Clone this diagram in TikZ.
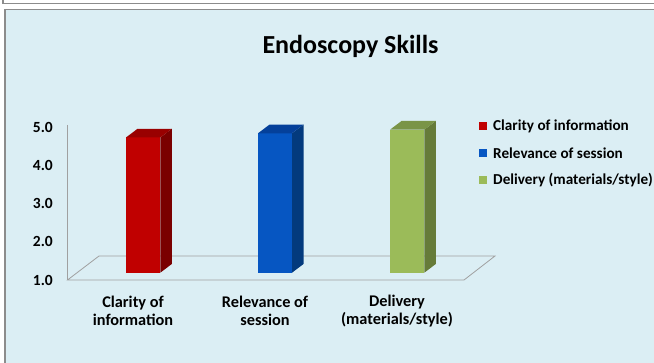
\documentclass[tikz,border=0pt]{standalone}
\usepackage{fontspec}
\setmainfont{Carlito}
\definecolor{bg}{HTML}{DBEEF4}
\definecolor{frame}{HTML}{8C8C8C}
\definecolor{axisgray}{HTML}{A0A0A0}
\definecolor{redF}{HTML}{C00000}
\definecolor{redT}{HTML}{990000}
\definecolor{redS}{HTML}{7A0000}
\definecolor{bluF}{HTML}{0656C2}
\definecolor{bluT}{HTML}{04409A}
\definecolor{bluS}{HTML}{033A7D}
\definecolor{grnF}{HTML}{9BBB59}
\definecolor{grnT}{HTML}{7A9447}
\definecolor{grnS}{HTML}{667B39}
\tikzset{
  axisline/.style={draw=axisgray,line width=0.8pt},
  ticklabel/.style={font=\fontsize{15.5}{18}\selectfont\bfseries,anchor=east,inner sep=0pt},
  catlabel/.style={font=\fontsize{16.3}{18.5}\selectfont\bfseries,align=center,inner sep=0pt},
  legtext/.style={font=\fontsize{15.2}{18}\selectfont\bfseries,anchor=west,inner sep=0pt},
  legbox/.style={minimum size=8pt,inner sep=0pt},
}
\usetikzlibrary{calc}
% bar: x1, x2, ytop, ybot, front, top, side
\newcommand{\mybar}[7]{%
  \fill[#5] (#1,#3) rectangle (#2,#4);
  \fill[#7] (#2,#4) -- ++(11.5,-8.7) -- ($(#2,#3)+(11.5,-8.7)$) -- (#2,#3) -- cycle;
  \fill[#6] (#1,#3) -- ++(11.5,-8.7) -- ($(#2,#3)+(11.5,-8.7)$) -- (#2,#3) -- cycle;
}
\begin{document}
\begin{tikzpicture}[x=1pt,y=-1pt]
\useasboundingbox (0,0) rectangle (654,363);
% frames
\fill[white] (0,0) rectangle (654,363);
\draw[frame,line width=1.2pt] (3,-2) -- (3,3.6) -- (660,3.6);
\fill[bg] (5,9.5) rectangle (660,370);
\draw[frame,line width=1.8pt] (5,370) -- (5,9.5) -- (660,9.5);
% title
\node[font=\fontsize{26}{30}\selectfont\bfseries,inner sep=0pt] (title) at (350.5,46.5) {Endoscopy Skills};
% floor and axis
\coordinate (fl) at (67.5,280);
\coordinate (fr) at (464,280);
\coordinate (bl) at (99,256);
\coordinate (br) at (495,256);
\coordinate (at) at (67.5,125);
\draw[axisline] (fl) -- (fr) -- (br) -- (bl) -- cycle;
\draw[axisline] (at) -- (fl);
% tick labels
\node[ticklabel] (t5) at (53,127.5) {5.0};
\node[ticklabel] (t4) at (53,165) {4.0};
\node[ticklabel] (t3) at (53,203.5) {3.0};
\node[ticklabel] (t2) at (53,241.5) {2.0};
\node[ticklabel] (t1) at (53,280) {1.0};
% bars
\mybar{126}{160.3}{137.5}{272.7}{redF}{redT}{redS}
\mybar{258}{292}{133.3}{272.7}{bluF}{bluT}{bluS}
\mybar{390}{424.3}{129.7}{272.7}{grnF}{grnT}{grnS}
% category labels
\node[catlabel] (c1) at (133,311) {Clarity of\\information};
\node[catlabel] (c2) at (265,311) {Relevance of\\session};
\node[catlabel] (c3) at (397,311) {Delivery\\(materials/style)};
% legend
\node[legbox,fill=redF] (l1) at (483,126) {};
\node[legbox,fill=bluF] (l2) at (483,153) {};
\node[legbox,fill=grnF] (l3) at (483,180.5) {};
\node[legtext] (lt1) at (493,126) {Clarity of information};
\node[legtext] (lt2) at (493,153) {Relevance of session};
\node[legtext] (lt3) at (493,180.5) {Delivery (materials/style)};
\end{tikzpicture}
\end{document}
